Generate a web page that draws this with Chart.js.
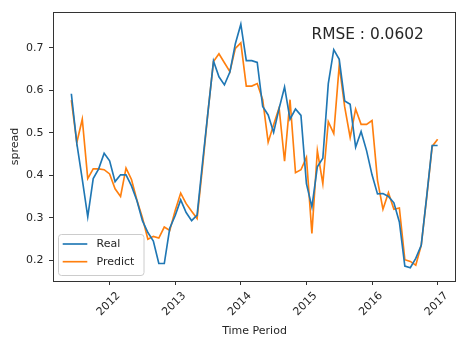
<!DOCTYPE html>
<html>
<head>
<meta charset="utf-8">
<script src="https://cdn.jsdelivr.net/npm/chart.js@4.4.1/dist/chart.umd.min.js"></script>
<style>
  html, body { margin: 0; padding: 0; background: #fff; }
</style>
</head>
<body>
<canvas id="grafico" width="457" height="338"></canvas>
<script>
// serie mensal: jun/2011 ate jan/2017
const inicioAno = 2011;
const inicioMes = 6;

const real = [
  0.592, 0.475, 0.390, 0.302, 0.392, 0.415, 0.452, 0.434, 0.385, 0.401,
  0.401, 0.375, 0.340, 0.293, 0.265, 0.245, 0.192, 0.192, 0.275, 0.305,
  0.342, 0.312, 0.293, 0.306, 0.430, 0.550, 0.669, 0.632, 0.613, 0.643,
  0.710, 0.756, 0.670, 0.670, 0.666, 0.562, 0.542, 0.501, 0.557, 0.608,
  0.532, 0.556, 0.541, 0.380, 0.325, 0.420, 0.440, 0.616, 0.696, 0.673,
  0.575, 0.567, 0.466, 0.503, 0.458, 0.401, 0.356, 0.357, 0.350, 0.335,
  0.290, 0.186, 0.182, 0.204, 0.235, 0.350, 0.470, 0.470
];

const predict = [
  0.577, 0.477, 0.532, 0.392, 0.415, 0.415, 0.413, 0.403, 0.368, 0.350,
  0.417, 0.390, 0.341, 0.300, 0.249, 0.256, 0.252, 0.278, 0.270, 0.317,
  0.358, 0.333, 0.315, 0.298, 0.420, 0.550, 0.668, 0.686, 0.665, 0.644,
  0.699, 0.712, 0.610, 0.610, 0.616, 0.578, 0.478, 0.519, 0.559, 0.433,
  0.578, 0.406, 0.413, 0.442, 0.263, 0.458, 0.380, 0.526, 0.498, 0.659,
  0.561, 0.489, 0.556, 0.520, 0.520, 0.529, 0.388, 0.320, 0.359, 0.320,
  0.323, 0.201, 0.197, 0.188, 0.235, 0.348, 0.468, 0.485
];

const ticksX = [2012, 2013, 2014, 2015, 2016, 2017];
const ticksY = [0.2, 0.3, 0.4, 0.5, 0.6, 0.7];
const textoRmse = "RMSE : 0.0602";

const fonte = "'DejaVu Sans', sans-serif";
const corTexto = "#262626";

// eixo do tempo em anos fracionarios
const tempo = real.map((_, i) => inicioAno + (inicioMes - 1 + i) / 12);
const pontos = serie => serie.map((v, i) => ({ x: tempo[i], y: v }));

const moldura = {
  id: "moldura",
  afterDraw(chart) {
    const { ctx, chartArea: a, scales } = chart;
    ctx.save();

    // borda dos eixos
    ctx.strokeStyle = "#333";
    ctx.lineWidth = 1;
    ctx.strokeRect(Math.round(a.left) + 0.5, Math.round(a.top) + 0.5,
      Math.round(a.right - a.left) - 1, Math.round(a.bottom - a.top));

    // rotulos do eixo x girados 45 graus, centrados no tick
    ctx.fillStyle = corTexto;
    ctx.font = `11px ${fonte}`;
    ctx.textAlign = "center";
    ctx.textBaseline = "middle";
    ticksX.forEach(ano => {
      const px = scales.x.getPixelForValue(ano);
      ctx.save();
      ctx.translate(px - 1, a.bottom + 23);
      ctx.rotate(-Math.PI / 4);
      ctx.fillText(String(ano), 0, 0);
      ctx.restore();
    });

    // RMSE
    ctx.font = `15.4px ${fonte}`;
    ctx.textAlign = "left";
    ctx.textBaseline = "alphabetic";
    ctx.fillText(textoRmse, 311.5, 39);

    // legenda no canto inferior esquerdo
    const lx = 58.5, ly = 234.5, lw = 85.5, lh = 41;
    ctx.fillStyle = "rgba(255,255,255,0.8)";
    ctx.strokeStyle = "#cccccc";
    ctx.lineWidth = 1;
    ctx.beginPath();
    ctx.roundRect(lx, ly, lw, lh, 3);
    ctx.fill();
    ctx.stroke();

    ctx.font = `11px ${fonte}`;
    ctx.textBaseline = "middle";
    chart.data.datasets.forEach((ds, i) => {
      const y = 244 + i * 17.7;
      ctx.strokeStyle = ds.borderColor;
      ctx.lineWidth = 1.65;
      ctx.beginPath();
      ctx.moveTo(62.7, y);
      ctx.lineTo(87.3, y);
      ctx.stroke();
      ctx.fillStyle = corTexto;
      ctx.fillText(ds.label, 96.5, y);
    });

    ctx.restore();
  }
};

new Chart(document.getElementById("grafico").getContext("2d"), {
  type: "line",
  data: {
    datasets: [
      { label: "Real", data: pontos(real), borderColor: "#1f77b4" },
      { label: "Predict", data: pontos(predict), borderColor: "#ff7f0e" }
    ]
  },
  options: {
    responsive: false,
    animation: false,
    devicePixelRatio: 1,
    layout: { padding: { top: 11, right: 1, left: 0, bottom: 0 } },
    elements: {
      line: { borderWidth: 1.65, tension: 0, fill: false },
      point: { radius: 0 }
    },
    plugins: {
      legend: { display: false },
      tooltip: { enabled: false }
    },
    scales: {
      x: {
        type: "linear",
        min: 2011.137,
        max: 2017.28,
        afterBuildTicks: s => { s.ticks = ticksX.map(v => ({ value: v })); },
        afterFit: s => { s.height = 57; },
        grid: { drawOnChartArea: false, drawTicks: true, tickLength: 4, color: "#333" },
        border: { display: false },
        ticks: { display: false },
        title: {
          display: true,
          text: "Time Period",
          color: corTexto,
          font: { family: fonte, size: 11 },
          padding: { top: 0, bottom: 0.5 }
        }
      },
      y: {
        min: 0.1508,
        max: 0.7844,
        afterBuildTicks: s => { s.ticks = ticksY.map(v => ({ value: v })); },
        afterFit: s => { s.width = 53; },
        grid: { drawOnChartArea: false, drawTicks: true, tickLength: 4, color: "#333" },
        border: { display: false },
        ticks: {
          color: corTexto,
          padding: 5.5,
          font: { family: fonte, size: 11 },
          callback: v => v.toFixed(1)
        },
        title: {
          display: true,
          text: "spread",
          color: corTexto,
          font: { family: fonte, size: 11 },
          padding: { top: 8.4, bottom: 0 }
        }
      }
    }
  },
  plugins: [moldura]
});
</script>
</body>
</html>
